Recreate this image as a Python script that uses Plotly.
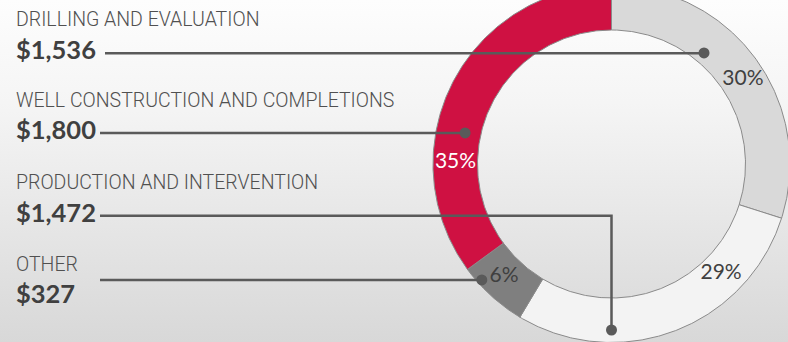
import numpy as np
import plotly.graph_objects as go

# ---- data ----
categories = ["DRILLING AND EVALUATION", "WELL CONSTRUCTION AND COMPLETIONS",
              "PRODUCTION AND INTERVENTION", "OTHER"]
values = [1536, 1800, 1472, 327]
# order of slices clockwise from 12 o'clock
slice_order = ["DRILLING AND EVALUATION", "PRODUCTION AND INTERVENTION", "OTHER",
               "WELL CONSTRUCTION AND COMPLETIONS"]

# ---- layout / style ----
W, H = 788, 342
CX, CY = 611.5, 164.0
R_OUT, R_IN = 178.5, 134.0
slice_colors = {
    "DRILLING AND EVALUATION": "#d9d9d9",
    "PRODUCTION AND INTERVENTION": "#f3f3f3",
    "OTHER": "#7f7f7f",
    "WELL CONSTRUCTION AND COMPLETIONS": "#cf1142",
}
pct_color = {
    "DRILLING AND EVALUATION": "#404040",
    "PRODUCTION AND INTERVENTION": "#404040",
    "OTHER": "#404040",
    "WELL CONSTRUCTION AND COMPLETIONS": "#ffffff",
}
# bearing (deg clockwise from top) and radius for percentage labels
pct_pos = {
    "DRILLING AND EVALUATION": (57.4, 156),
    "PRODUCTION AND INTERVENTION": (135.0, 155),
    "OTHER": (223.5, 156),
    "WELL CONSTRUCTION AND COMPLETIONS": (270.5, 156),
}
# row layout on the left: category label y, value y, leader y, leader start x
row_layout = {
    "DRILLING AND EVALUATION": (19, 49, 53.3, 105),
    "WELL CONSTRUCTION AND COMPLETIONS": (100, 129, 133, 100),
    "PRODUCTION AND INTERVENTION": (182, 212, 215.7, 100),
    "OTHER": (264, 293, 280, 100),
}
# leader anchor on ring: bearing, radius
anchor_pos = {
    "DRILLING AND EVALUATION": (39.8, 144.5),
    "WELL CONSTRUCTION AND COMPLETIONS": (282.0, 149.7),
    "PRODUCTION AND INTERVENTION": (180.0, 166.0),
    "OTHER": (228.2, 174.0),
}
LINE_COLOR = "#5a5a5a"
FONT = "Lato"
LABEL_FONT = "Roboto"


def pt(bearing_deg, r):
    b = np.deg2rad(bearing_deg)
    return CX + r * np.sin(b), CY - r * np.cos(b)


fig = go.Figure()

# background gradient
fig.add_trace(go.Scatter(
    x=[0, W, W, 0, 0], y=[0, 0, H, H, 0], mode="lines", line=dict(width=0),
    fill="toself", fillcolor="#eeeeee",
    fillgradient=dict(type="vertical", start=0, stop=H,
                      colorscale=[[0, "#fdfdfd"], [0.3, "#f5f5f5"], [1, "#d8d8d8"]]),
    hoverinfo="skip", showlegend=False))

val_map = dict(zip(categories, values))
total = sum(values)
start = 0.0
for cat in slice_order:
    v = val_map[cat]
    span = 360.0 * v / total
    a = np.linspace(start, start + span, 200)
    xo, yo = pt(a, R_OUT)
    xi, yi = pt(a[::-1], R_IN)
    xs = np.concatenate([xo, xi, xo[:1]])
    ys = np.concatenate([yo, yi, yo[:1]])
    fig.add_trace(go.Scatter(x=xs, y=ys, mode="lines", fill="toself",
                             fillcolor=slice_colors[cat],
                             line=dict(color="#8a8a8a", width=1),
                             hoverinfo="skip", showlegend=False))
    start += span

# percentage labels
for cat in slice_order:
    b, r = pct_pos[cat]
    x, y = pt(b, r)
    pct = round(100 * val_map[cat] / total)
    fig.add_trace(go.Scatter(x=[x], y=[y], mode="text", text=[f"{pct}%"],
                             textfont=dict(family=FONT, size=21, color=pct_color[cat]),
                             hoverinfo="skip", showlegend=False))

# leaders, dots and left labels
for cat in categories:
    ly, vy, leader_y, x0 = row_layout[cat]
    b, r = anchor_pos[cat]
    ax, ay = pt(b, r)
    if abs(ay - leader_y) > 3:
        xs, ys = [x0, ax, ax], [leader_y, leader_y, ay]
    else:
        xs, ys = [x0, ax], [leader_y, leader_y]
    fig.add_trace(go.Scatter(x=xs, y=ys, mode="lines",
                             line=dict(color=LINE_COLOR, width=2.5),
                             hoverinfo="skip", showlegend=False))
    fig.add_trace(go.Scatter(x=[ax], y=[ay], mode="markers",
                             marker=dict(color=LINE_COLOR, size=11),
                             hoverinfo="skip", showlegend=False))
    fig.add_annotation(x=14, y=ly, xref="x", yref="y", text=cat, showarrow=False,
                       xanchor="left", yanchor="middle",
                       font=dict(family=LABEL_FONT, size=19.5, color="#505050", weight=300))
    fig.add_annotation(x=14, y=vy, xref="x", yref="y", text=f"${val_map[cat]:,}",
                       showarrow=False, xanchor="left", yanchor="middle",
                       font=dict(family=FONT, size=25.5, color="#404040", weight="bold"))

fig.update_layout(
    width=W, height=H, margin=dict(l=0, r=0, t=0, b=0),
    paper_bgcolor="#f0f0f0", plot_bgcolor="rgba(0,0,0,0)",
    xaxis=dict(range=[0, W], visible=False, fixedrange=True),
    yaxis=dict(range=[H, 0], visible=False, fixedrange=True),
    showlegend=False,
)
fig.write_html("out.html")
